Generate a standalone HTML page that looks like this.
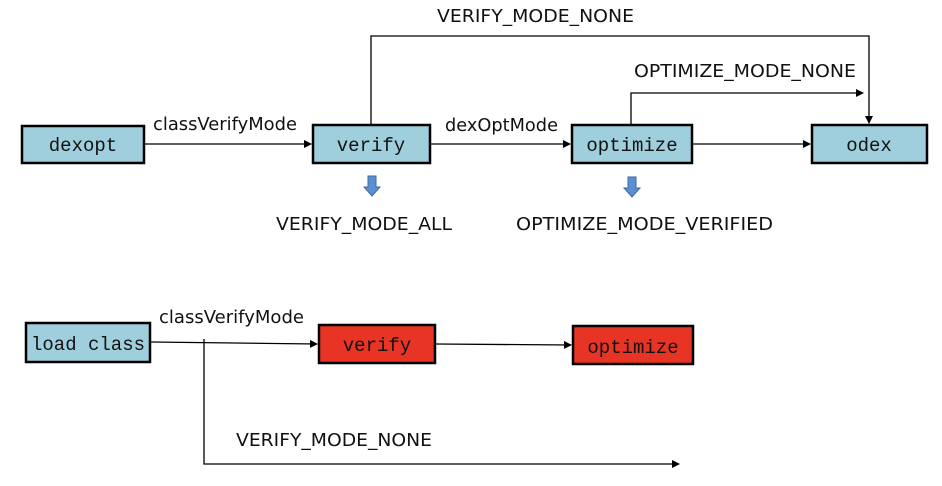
<!DOCTYPE html>
<html><head><meta charset="utf-8"><style>
html,body{margin:0;padding:0;background:#fff;}
svg{display:block;}
.l{font-family:"DejaVu Sans","Liberation Sans",sans-serif;font-size:17.5px;fill:#111;}
.b{font-family:"Liberation Mono","DejaVu Sans Mono",monospace;font-size:19px;fill:#111;}
</style></head><body>
<svg width="942" height="486" viewBox="0 0 942 486" xmlns="http://www.w3.org/2000/svg">
<defs>
<marker id="a" markerWidth="8" markerHeight="8" refX="7" refY="4" orient="auto" markerUnits="userSpaceOnUse">
<path d="M0,0 L8,4 L0,8 z" fill="#000"/></marker>
</defs>
<g stroke="#000" stroke-width="1.3" fill="none">
<line x1="144" y1="144" x2="311" y2="144" marker-end="url(#a)"/>
<line x1="430" y1="144" x2="570" y2="144" marker-end="url(#a)"/>
<line x1="692" y1="144" x2="810" y2="144" marker-end="url(#a)"/>
<polyline points="371,124 371,36 869,36 869,123" marker-end="url(#a)"/>
<polyline points="631,124 631,93 863,93" marker-end="url(#a)"/>
<line x1="151" y1="342" x2="317" y2="344" marker-end="url(#a)"/>
<line x1="436" y1="344" x2="571" y2="345" marker-end="url(#a)"/>
<polyline points="204,339 204,464 679,464" marker-end="url(#a)"/>
</g>
<g stroke="#000" stroke-width="2.5">
<rect x="22" y="126" width="122" height="37" fill="#9fcedd"/>
<rect x="313" y="125" width="117" height="38" fill="#9fcedd"/>
<rect x="572" y="125" width="120" height="38" fill="#9fcedd"/>
<rect x="812" y="125" width="115" height="38" fill="#9fcedd"/>
<rect x="26" y="323" width="124" height="39" fill="#9fcedd"/>
<rect x="319" y="325" width="116" height="38" fill="#e83424"/>
<rect x="573" y="326" width="120" height="38" fill="#e83424"/>
</g>
<g fill="#5b8fcf" stroke="#3b6aa8" stroke-width="1">
<path d="M368,176 h8 v11 h4 l-8,9 l-8,-9 h4 z"/>
<path d="M628,177 h8 v11 h4 l-8,9 l-8,-9 h4 z"/>
</g>
<g class="b" text-anchor="middle">
<text x="83" y="151">dexopt</text>
<text x="371" y="151">verify</text>
<text x="632" y="151">optimize</text>
<text x="869" y="151">odex</text>
<text x="88" y="350">load class</text>
<text x="377" y="351">verify</text>
<text x="633" y="353">optimize</text>
</g>
<g class="l">
<text x="437" y="22" textLength="197" lengthAdjust="spacingAndGlyphs">VERIFY_MODE_NONE</text>
<text x="153" y="130" textLength="144" lengthAdjust="spacingAndGlyphs">classVerifyMode</text>
<text x="445" y="131" textLength="113" lengthAdjust="spacingAndGlyphs">dexOptMode</text>
<text x="634" y="77" textLength="222" lengthAdjust="spacingAndGlyphs">OPTIMIZE_MODE_NONE</text>
<text x="276" y="230" textLength="176" lengthAdjust="spacingAndGlyphs">VERIFY_MODE_ALL</text>
<text x="516" y="230" textLength="257" lengthAdjust="spacingAndGlyphs">OPTIMIZE_MODE_VERIFIED</text>
<text x="159" y="323" textLength="145" lengthAdjust="spacingAndGlyphs">classVerifyMode</text>
<text x="236" y="446" textLength="196" lengthAdjust="spacingAndGlyphs">VERIFY_MODE_NONE</text>
</g>
</svg>
</body></html>
